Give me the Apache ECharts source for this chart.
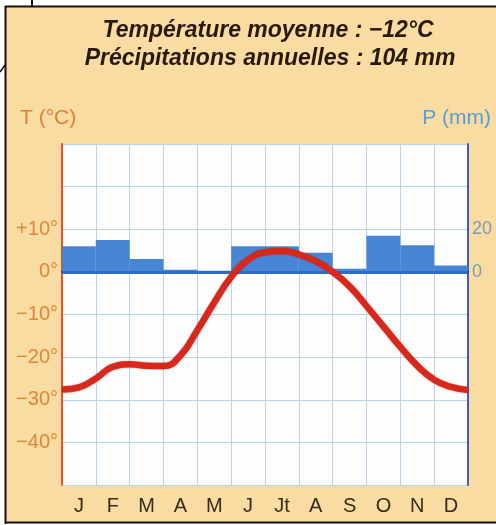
<!DOCTYPE html>
<html>
<head>
<meta charset="utf-8">
<script src="https://cdn.jsdelivr.net/npm/echarts@6/dist/echarts.min.js"></script>
<style>
  html, body { margin: 0; padding: 0; background: #ffffff; }
  #chart { width: 496px; height: 525px; }
</style>
</head>
<body>
<div id="chart"></div>
<script>
// ---- data ----
var months = ['J', 'F', 'M', 'A', 'M', 'J', 'Jt', 'A', 'S', 'O', 'N', 'D'];
var precipitation = [12, 15, 6, 1, 0.5, 12, 12, 9, 1.5, 17, 12.5, 3]; // mm
// temperature curve read at half-month positions (0 = left edge of Jan, 12 = right edge of Dec)
var tempPositions = [0, 0.5, 1, 1.5, 2, 2.5, 3, 3.5, 4, 4.5, 5, 5.5, 6, 6.5, 7, 7.5, 8, 8.5, 9, 9.5, 10, 10.5, 11, 11.5, 12];
var temperature = [-27.6, -27.1, -25.0, -22.3, -21.7, -22.0, -22.1, -19.6, -13.7, -7.2, -1.2, 2.8, 4.6, 4.9, 4.1, 2.5, 0, -3.4, -8.0, -12.8, -17.6, -22.0, -25.3, -27.0, -27.7];
var tempTickValues = [10, 0, -10, -20, -30, -40];
var tempTickLabels = ['+10°', '0°', '−10°', '−20°', '−30°', '−40°'];
var precipTickValues = [20, 0];
var precipTickLabels = ['20', '0'];
var titleLines = ['Température moyenne : −12°C', 'Précipitations annuelles : 104 mm'];
var tempAxisName = 'T (°C)';
var precipAxisName = 'P (mm)';

var linePoints = tempPositions.map(function (p, i) { return [p, temperature[i]]; });

var chart = echarts.init(document.getElementById('chart'), null, { renderer: 'canvas' });
var fontFam = '"Liberation Sans", Arial, Helvetica, sans-serif';
var gridColor = '#b9d3ea';

chart.setOption({
  backgroundColor: '#f9dca2',
  animation: false,
  grid: { left: 62, right: 28, top: 144, bottom: 40, show: true, backgroundColor: '#fcfdfc', borderWidth: 0 },
  xAxis: [
    {
      type: 'category',
      data: months,
      boundaryGap: true,
      axisLine: { show: true, lineStyle: { color: '#1e1a18', width: 2 } },
      axisTick: { show: false },
      axisLabel: { color: '#3a2a1c', fontSize: 20, fontFamily: fontFam, margin: 11 },
      splitLine: { show: true, lineStyle: { color: gridColor, width: 1 } }
    },
    {
      type: 'value',
      min: 0, max: 12,
      show: false
    }
  ],
  yAxis: [
    {
      type: 'value',
      position: 'left',
      min: -50, max: 30, interval: 10,
      axisLine: { show: true, onZero: false, lineStyle: { color: '#e4542a', width: 2 } },
      axisTick: { show: false },
      axisLabel: {
        color: '#e0853a', fontSize: 20, fontFamily: fontFam, margin: 4,
        formatter: function (v) {
          var i = tempTickValues.indexOf(v);
          return i >= 0 ? tempTickLabels[i] : '';
        }
      },
      splitLine: { show: true, lineStyle: { color: gridColor, width: 1 } }
    },
    {
      type: 'value',
      position: 'right',
      min: -100, max: 60, interval: 20,
      axisLine: { show: true, onZero: false, lineStyle: { color: '#3c5cc0', width: 2 } },
      axisTick: { show: false },
      axisLabel: {
        color: '#7d9bb2', fontSize: 18, fontFamily: fontFam, margin: 4,
        formatter: function (v) {
          var i = precipTickValues.indexOf(v);
          return i >= 0 ? precipTickLabels[i] : '';
        }
      },
      splitLine: { show: false }
    }
  ],
  series: [
    {
      type: 'bar',
      name: 'P',
      xAxisIndex: 0,
      yAxisIndex: 1,
      data: precipitation,
      barCategoryGap: '0%',
      itemStyle: { color: '#3d7fd2', opacity: 0.95 },
      z: 2,
      markLine: {
        silent: true,
        symbol: ['none', 'none'],
        label: { show: false },
        lineStyle: { color: '#2f6cc6', width: 3, type: 'solid' },
        data: [{ yAxis: 0 }]
      }
    },
    {
      type: 'line',
      name: 'T',
      xAxisIndex: 1,
      yAxisIndex: 0,
      data: linePoints,
      smooth: 0.5,
      showSymbol: false,
      lineStyle: { color: '#d8281c', width: 6.5, shadowColor: 'rgba(120,0,0,0.35)', shadowBlur: 2 },
      z: 5
    }
  ],
  graphic: [
    {
      type: 'text', z: 10,
      style: {
        x: 268, y: 31, text: titleLines[0], align: 'center', verticalAlign: 'middle',
        fill: '#2a1a0e', font: 'italic bold 23px ' + fontFam
      }
    },
    {
      type: 'text', z: 10,
      style: {
        x: 270, y: 59, text: titleLines[1], align: 'center', verticalAlign: 'middle',
        fill: '#2a1a0e', font: 'italic bold 23px ' + fontFam
      }
    },
    {
      type: 'text', z: 10,
      style: {
        x: 20, y: 118, text: tempAxisName, align: 'left', verticalAlign: 'middle',
        fill: '#e0803a', font: '21px ' + fontFam
      }
    },
    {
      type: 'text', z: 10,
      style: {
        x: 491, y: 118, text: precipAxisName, align: 'right', verticalAlign: 'middle',
        fill: '#55a0d6', font: '21px ' + fontFam
      }
    },
    // scan frame (page edges outside the figure)
    { type: 'rect', z: 20, shape: { x: 0, y: 0, width: 496, height: 6 }, style: { fill: '#ffffff' } },
    { type: 'rect', z: 20, shape: { x: 0, y: 0, width: 5, height: 525 }, style: { fill: '#ffffff' } },
    { type: 'rect', z: 20, shape: { x: 0, y: 523, width: 496, height: 2 }, style: { fill: '#ffffff' } },
    { type: 'line', z: 21, shape: { x1: 5.5, y1: 6, x2: 5.5, y2: 524 }, style: { stroke: '#111', lineWidth: 2 } },
    { type: 'line', z: 21, shape: { x1: 5, y1: 6.5, x2: 496, y2: 6.5 }, style: { stroke: '#111', lineWidth: 2 } },
    { type: 'line', z: 21, shape: { x1: 5, y1: 522.5, x2: 496, y2: 522.5 }, style: { stroke: '#111', lineWidth: 2 } },
    { type: 'line', z: 21, shape: { x1: 32, y1: 0, x2: 32, y2: 6 }, style: { stroke: '#111', lineWidth: 2 } },
    { type: 'line', z: 21, shape: { x1: 0, y1: 72, x2: 5, y2: 65 }, style: { stroke: '#111', lineWidth: 1.5 } }
  ]
});
</script>
</body>
</html>
